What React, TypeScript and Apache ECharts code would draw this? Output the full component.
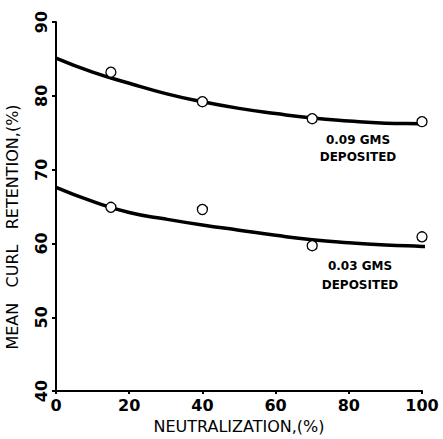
import React, { useEffect, useRef } from "react";
import * as echarts from "echarts";

const xTicks = [0, 20, 40, 60, 80, 100];
const yTicks = [40, 50, 60, 70, 80, 90];

const upperPoints = [
  [15, 83.2],
  [40, 79.2],
  [70, 76.9],
  [100, 76.5],
];
const lowerPoints = [
  [15, 64.9],
  [40, 64.6],
  [70, 59.7],
  [100, 60.9],
];
const upperCurve = [
  [0, 85.1], [10, 83.2], [20, 81.7], [30, 80.3], [40, 79.2], [50, 78.3],
  [60, 77.6], [70, 77.0], [80, 76.6], [90, 76.3], [100, 76.2], [105, 76.1],
];
const lowerCurve = [
  [0, 67.6], [10, 65.7], [20, 64.2], [30, 63.3], [40, 62.5], [50, 61.8],
  [60, 61.1], [70, 60.5], [80, 60.1], [90, 59.8], [100, 59.6], [105, 59.5],
];
const upperLabel = ["0.09 GMS", "DEPOSITED"];
const lowerLabel = ["0.03 GMS", "DEPOSITED"];
const xTitle = "NEUTRALIZATION,(%)";
const yTitle = "MEAN   CURL   RETENTION,(%)";

const FONT = "DejaVu Sans";

export default function App() {
  const ref = useRef<HTMLDivElement>(null);
  useEffect(() => {
    if (!ref.current) return;
    const chart = echarts.init(ref.current, undefined, { renderer: "svg" });
    chart.setOption({
      animation: false,
      backgroundColor: "#fff",
      grid: { left: 56, right: 21, top: 22, bottom: 47, containLabel: false },
      xAxis: {
        type: "value",
        min: 0,
        max: 100,
        interval: 20,
        name: xTitle,
        nameLocation: "middle",
        nameGap: 26,
        nameTextStyle: { fontFamily: FONT, fontSize: 16, color: "#000" },
        axisLine: { lineStyle: { color: "#000", width: 2 } },
        axisTick: { show: true, length: 3, lineStyle: { color: "#000", width: 2 } },
        axisLabel: {
          fontFamily: FONT, fontSize: 16, fontWeight: "bold", color: "#000", margin: 6,
          formatter: (v: number) => (xTicks.includes(v) ? String(v) : ""),
        },
        splitLine: { show: false },
      },
      yAxis: {
        type: "value",
        min: 40,
        max: 90,
        interval: 10,
        axisLine: { show: true, lineStyle: { color: "#000", width: 2 } },
        axisTick: { show: true, length: 4, lineStyle: { color: "#000", width: 2 } },
        axisLabel: { show: false },
        splitLine: { show: false },
      },
      series: [
        {
          type: "line", data: upperCurve, smooth: true, showSymbol: false, clip: false,
          lineStyle: { color: "#000", width: 3.5 }, z: 2,
        },
        {
          type: "line", data: lowerCurve, smooth: true, showSymbol: false, clip: false,
          lineStyle: { color: "#000", width: 3.5 }, z: 2,
        },
        {
          type: "scatter", data: upperPoints, symbol: "circle", symbolSize: 10,
          itemStyle: { color: "#fff", opacity: 1, borderColor: "#000", borderWidth: 1.3 }, z: 3,
        },
        {
          type: "scatter", data: lowerPoints, symbol: "circle", symbolSize: 10,
          itemStyle: { color: "#fff", opacity: 1, borderColor: "#000", borderWidth: 1.3 }, z: 3,
        },
      ],
    });

    const yLabelGraphics = yTicks.map((v) => {
      const py = chart.convertToPixel({ yAxisIndex: 0 }, v) as number;
      return {
        type: "text",
        x: 41,
        y: py,
        rotation: Math.PI / 2,
        style: {
          text: String(v), fontFamily: FONT, fontSize: 16, fontWeight: "bold",
          fill: "#000", align: "center", verticalAlign: "middle",
        },
      };
    });

    chart.setOption({
      graphic: [
        ...yLabelGraphics,
        {
          type: "text",
          x: 12, y: 227, rotation: Math.PI / 2,
          style: { text: yTitle, fontFamily: FONT, fontSize: 16, fill: "#000", align: "center", verticalAlign: "middle" },
        },
        {
          type: "text",
          x: 358, y: 148,
          style: { text: upperLabel.join("\n"), fontFamily: FONT, fontWeight: "bold", fontSize: 12, lineHeight: 17, fill: "#000", align: "center", verticalAlign: "middle" },
        },
        {
          type: "text",
          x: 360, y: 275,
          style: { text: lowerLabel.join("\n"), fontFamily: FONT, fontWeight: "bold", fontSize: 12, lineHeight: 19, fill: "#000", align: "center", verticalAlign: "middle" },
        },
      ],
    });
    return () => chart.dispose();
  }, []);
  return (
    <div
      ref={ref}
      style={{ position: "fixed", left: 0, top: 0, width: 443, height: 439 }}
    />
  );
}
